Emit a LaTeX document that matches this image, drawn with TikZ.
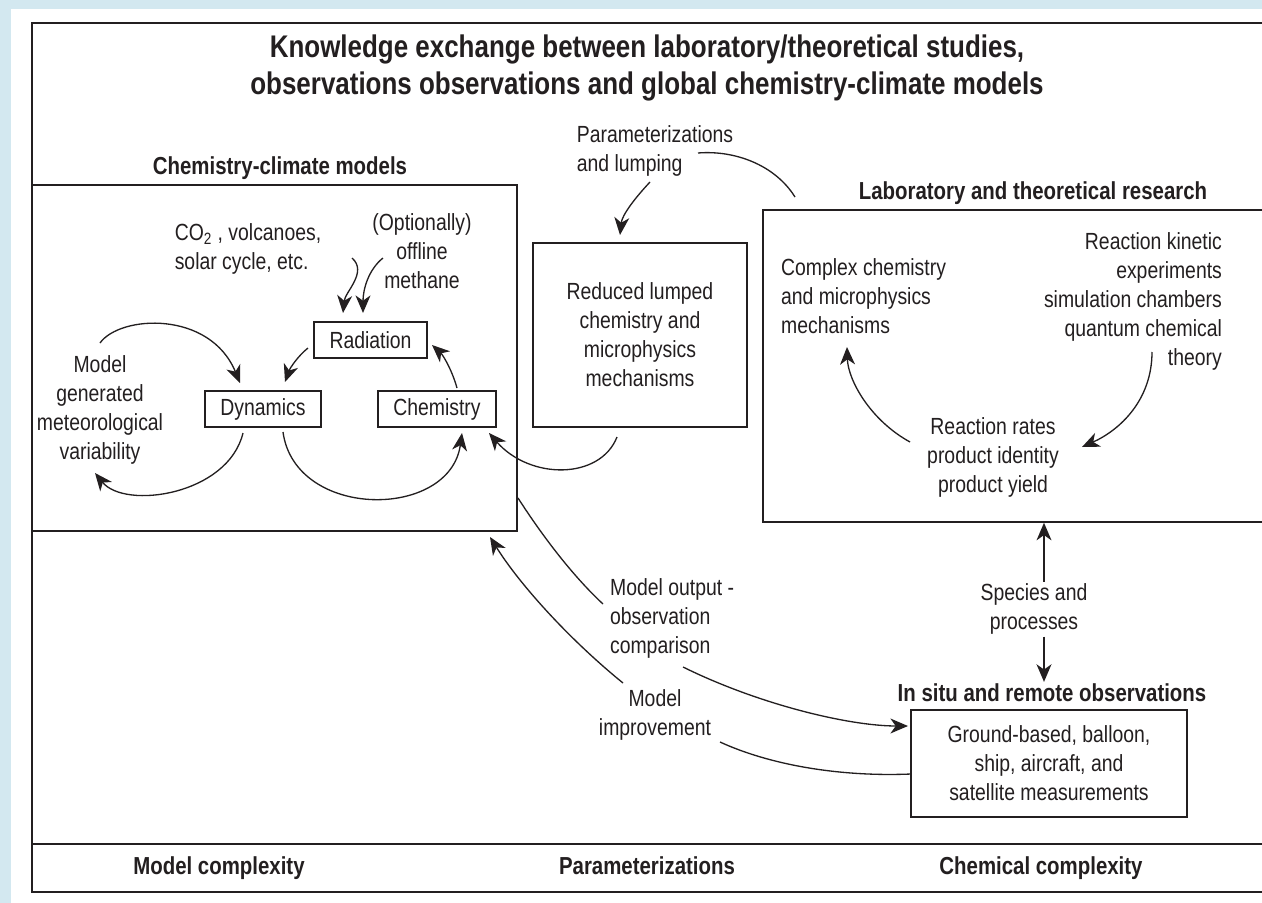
\documentclass[tikz,border=0pt]{standalone}
\usepackage{fontspec}
\setmainfont{Liberation Sans}[FakeStretch=0.83]
\usetikzlibrary{arrows.meta}
\definecolor{bgblue}{RGB}{211,232,240}
\definecolor{ink}{RGB}{35,31,32}
\tikzset{
	box/.style={draw=ink, line width=0.9pt, inner sep=0pt},
	txt/.style={align=center, font=\fontsize{13.3}{16.5}\selectfont, text=ink, inner sep=1pt},
	head/.style={font=\fontsize{14}{17}\selectfont\bfseries, text=ink, inner sep=1pt},
	arr/.style={draw=ink, line width=0.75pt, -{Stealth[length=10pt,width=8.5pt,inset=3pt]}},
	ln/.style={draw=ink, line width=0.75pt},
}

\begin{document}
\begin{tikzpicture}[x=0.02cm, y=-0.02cm]
		\useasboundingbox (0,0) rectangle (1262,903);
		\fill[bgblue] (0,0) rectangle (1262,903);
		\fill[white] (11,9) rectangle (1262,903);
		\clip (0,0) rectangle (1262,903);

		% frame and boxes
		\node[box, minimum width=24.86cm, minimum height=17.38cm] (frame) at (653.5,457.5) {};
		\draw[ink, line width=0.9pt] (frame.west |- 0,844) -- (frame.east |- 0,844);
		\node[box, minimum width=9.7cm, minimum height=6.92cm] (ccm) at (274.5,358) {};
		\node[box, minimum width=10.24cm, minimum height=6.24cm] (lab) at (1019,366) {};
		\node[box, txt, minimum width=4.28cm, minimum height=3.68cm] (reduced) at (640,335) {Reduced lumped\\chemistry and\\microphysics\\mechanisms};
		\node[box, txt, minimum width=5.52cm, minimum height=2.14cm] (obs) at (1049,763.5) {Ground-based, balloon,\\ship, aircraft, and\\satellite measurements};
		\node[box, txt, minimum width=2.26cm, minimum height=0.72cm] (rad) at (370.5,340) {Radiation};
		\node[box, txt, minimum width=2.32cm, minimum height=0.72cm] (dyn) at (263,409) {Dynamics};
		\node[box, txt, minimum width=2.36cm, minimum height=0.72cm] (chem) at (437,409) {Chemistry};

		% headings
		\node[font=\fontsize{17.8}{21}\selectfont\bfseries, text=ink, align=center] (title) at (647,68) {Knowledge exchange between laboratory/theoretical studies,\\observations observations and global chemistry-climate models};
		\node[head] (ccmhead) at (280,168) {Chemistry-climate models};
		\node[head] (labhead) at (1033,193) {Laboratory and theoretical research};
		\node[head] (obshead) at (1052,693) {In situ and remote observations};
		\node[head] (mcomp) at (219,868) {Model complexity};
		\node[head] (pbottom) at (647,866) {Parameterizations};
		\node[head] (ccomp) at (1041,868) {Chemical complexity};

		% labels
		\node[txt, align=left] (forcing) at (248,249) {CO\textsubscript{2} , volcanoes,\\solar cycle, etc.};
		\node[txt] (methane) at (422,251) {(Optionally)\\offline\\methane};
		\node[txt] (mgmv) at (100,410) {Model\\generated\\meteorological\\variability};
		\node[txt, align=left] (param) at (655,151) {Parameterizations\\and lumping};
		\node[txt, align=left, anchor=west] (complex) at (779,296) {Complex chemistry\\and microphysics\\mechanisms};
		\node[txt, align=right, anchor=east] (kinetic) at (1224,301) {Reaction kinetic\\experiments\\simulation chambers\\quantum chemical\\theory};
		\node[txt] (rates) at (993,457) {Reaction rates\\product identity\\product yield};
		\node[txt] (species) at (1034,609) {Species and\\processes};
		\node[txt, align=left, anchor=west] (output) at (608,618) {Model output -\\observation\\comparison};
		\node[txt] (improve) at (655,715) {Model\\improvement};

		% connector ends
		\coordinate (forcingA) at (352,258);
		\coordinate (radA) at (343,313);
		\coordinate (methaneA) at (383,258);
		\coordinate (radB) at (363,313);
		\coordinate (radC) at (308,348);
		\coordinate (dynA) at (285,382);
		\coordinate (chemA) at (457,388);
		\coordinate (radD) at (432,345);
		\coordinate (mgmvA) at (100,343);
		\coordinate (dynB) at (240,383);
		\coordinate (dynC) at (243,433);
		\coordinate (mgmvB) at (95,473);
		\coordinate (dynD) at (283,432);
		\coordinate (chemB) at (462,433);
		\coordinate (reducedA) at (617,437);
		\coordinate (chemC) at (489,433);
		\coordinate (paramA) at (650,182);
		\coordinate (reducedB) at (620,235);
		\coordinate (labA) at (795,197);
		\coordinate (paramB) at (698,153);
		\coordinate (ratesA) at (910,442);
		\coordinate (complexA) at (847,347);
		\coordinate (kineticA) at (1152,352);
		\coordinate (ratesB) at (1082,447);
		\coordinate (ccmA) at (518,498);
		\coordinate (outputA) at (603,604);
		\coordinate (outputB) at (683,667);
		\coordinate (obsA) at (908,726);
		\coordinate (obsB) at (911,774);
		\coordinate (improveA) at (720,742);
		\coordinate (improveB) at (623,683);
		\coordinate (ccmB) at (490,537);

		% inside the model
		\draw[arr] (forcingA) .. controls (368,272) and (345,292) .. (radA);
		\draw[arr] (methaneA) .. controls (368,270) and (363,290) .. (radB);
		\draw[arr] (radC) .. controls (298,356) and (290,368) .. (dynA);
		\draw[arr] (chemA) .. controls (452,370) and (443,355) .. (radD);
		\draw[arr] (mgmvA) .. controls (120,315) and (210,310) .. (dynB);
		\draw[arr] (dynC) .. controls (228,495) and (125,510) .. (mgmvB);
		\draw[arr] (dynD) .. controls (295,520) and (450,520) .. (chemB);
		\draw[arr] (reducedA) .. controls (600,480) and (530,480) .. (chemC);

		% parameterizations
		\draw[ln] (labA) .. controls (775,165) and (735,150) .. (paramB);
		\draw[arr] (paramA) .. controls (635,198) and (622,215) .. (reducedB);

		% lab cycle
		\draw[arr] (ratesA) .. controls (870,420) and (848,380) .. (complexA);
		\draw[arr] (kineticA) .. controls (1152,400) and (1120,430) .. (ratesB);

		% species and processes
		\draw[arr] (species.north -| 1044,0) -- (lab.south -| 1044,0);
		\draw[arr] (species.south -| 1044,0) -- (obshead.north -| 1044,0);

		% comparison and improvement
		\draw[ln] (ccmA) .. controls (545,540) and (575,578) .. (outputA);
		\draw[arr] (outputB) .. controls (760,705) and (850,726) .. (obsA);
		\draw[ln] (obsB) .. controls (840,777) and (770,765) .. (improveA);
		\draw[arr] (improveB) .. controls (570,640) and (520,585) .. (ccmB);

	\end{tikzpicture}
\end{document}
